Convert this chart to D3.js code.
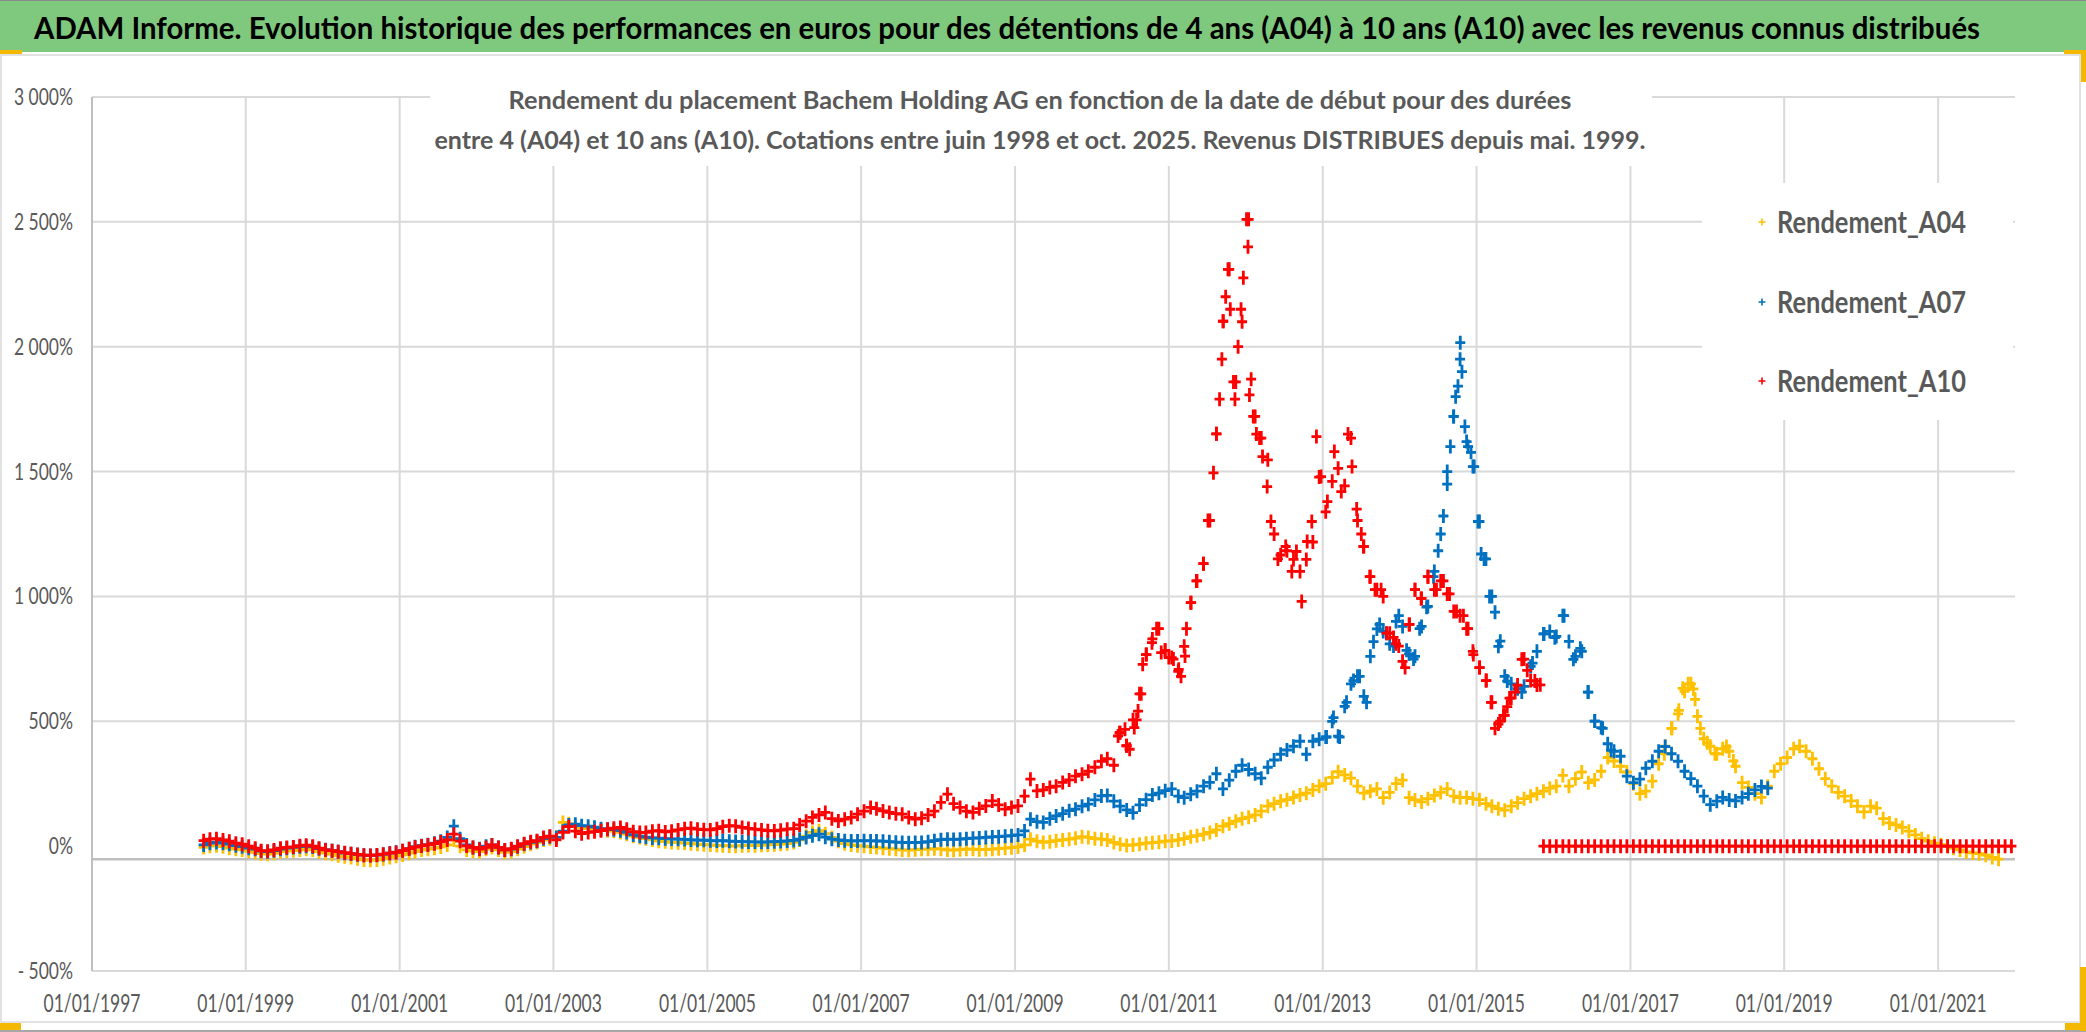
<!DOCTYPE html>
<html><head><meta charset="utf-8">
<script src="https://cdn.jsdelivr.net/npm/d3@7"></script>
<style>html,body{margin:0;padding:0;background:#fff;overflow:hidden}</style>
</head><body>
<svg id="c" width="2086" height="1032"></svg>
<script>
// ---------------- DATA (monthly readings, mid-month) ----------------
const seriesNames = ["Rendement_A04", "Rendement_A07", "Rendement_A10"];
const seriesColors = ["#FFC000", "#0070C0", "#FF0000"];
const startYear = 1998, startMonth = 6; // June 1998

const A04_values = [
  -5, 0, 2, -2, -8, -12, -15,
  -20, -25, -30, -32, -28, -22, -20, -18, -15, -12, -15, -22,
  -28, -32, -38, -42, -45, -50, -55, -56, -55, -50, -45, -40,
  -35, -28, -22, -15, -12, -8, -3, 5, 25, 0, -15, -20,
  -22, -12, -5, -15, -25, -22, -12, -2, 8, 15, 25, 30,
  35, 95, 90, 78, 72, 70, 68, 65, 62, 60, 55, 48,
  40, 35, 30, 25, 20, 18, 15, 14, 12, 10, 8, 6,
  5, 3, 2, 1, 0, 2, 3, 2, 4, 5, 6, 8,
  10, 15, 25, 40, 55, 62, 50, 35, 20, 10, 5, 2,
  0, -3, -5, -8, -10, -12, -15, -16, -14, -12, -12, -10,
  -12, -15, -16, -14, -12, -12, -14, -13, -12, -10, -8, -6,
  -3, 5, 28, 20, 15, 18, 22, 25, 28, 32, 38, 35,
  30, 28, 25, 15, 8, 3, 5, 8, 12, 14, 16, 20,
  21, 25, 30, 38, 42, 48, 55, 65, 80, 90, 100, 110,
  116, 125, 140, 160, 170, 180, 186, 195, 205, 212, 225, 240,
  250, 275, 298, 285, 272, 240, 212, 220, 229, 194, 215, 250,
  264, 194, 185, 177, 190, 203, 215, 229, 200, 194, 195, 190,
  186, 170, 160, 150, 144, 160, 174, 190, 200, 210, 220, 232,
  240, 283, 240, 270, 297, 254, 265, 300, 355, 341, 320, 297,
  250, 210, 220, 260, 330, 400, 472, 530, 620, 650, 520, 430,
  400, 370, 390, 380, 320, 254, 235, 210, 195, 240, 300, 330,
  355, 390, 400, 380, 350, 310, 270, 240, 215, 200, 181, 160,
  137, 160, 152, 110, 93, 85, 75, 60, 45, 30, 20, 12,
  6, 0, -8, -15, -23, -27, -30, -36, -45, -52
];

const A07_values = [
  5, 12, 15, 12, 8, 2, -2,
  -8, -12, -20, -22, -18, -12, -8, -5, -2, 0, -3, -10,
  -14, -18, -22, -28, -30, -34, -36, -37, -36, -33, -28, -24,
  -18, -10, -2, 2, 6, 12, 20, 35, 80, 30, 5, -5,
  -10, 0, 5, -5, -15, -12, -2, 8, 15, 20, 30, 38,
  35, 60, 85, 88, 82, 80, 76, 70, 68, 66, 62, 55,
  45, 40, 36, 33, 32, 30, 29, 28, 27, 25, 24, 24,
  22, 21, 22, 20, 19, 18, 17, 17, 16, 17, 18, 19,
  21, 23, 28, 35, 42, 48, 36, 28, 25, 22, 21, 21,
  22, 21, 21, 20, 18, 16, 15, 14, 15, 15, 18, 22,
  26, 28, 27, 28, 30, 32, 33, 35, 37, 38, 40, 42,
  45, 61, 108, 98, 95, 110, 121, 130, 142, 148, 160, 168,
  185, 201, 203, 180, 160, 145, 134, 165, 186, 205, 212, 222,
  229, 200, 194, 208, 220, 240, 255, 290, 229, 264, 300, 324,
  307, 290, 272, 316, 345, 368, 385, 400, 420, 368, 420, 428,
  437, 500, 440, 560, 650, 680, 600, 760, 870, 860, 810, 900,
  880, 770, 760, 880, 960, 1100, 1250, 1500, 1721, 1950, 1620, 1520,
  1300, 1150, 1000, 800, 680, 650, 630, 640, 720, 780, 850, 860,
  840, 923, 820, 760, 780, 617, 501, 475, 410, 380, 360, 280,
  254, 268, 312, 340, 380, 399, 370, 340, 300, 270, 240, 200,
  166, 180, 195, 185, 181, 195, 210, 225, 239, 232
];

const A10_values = [
  22, 28, 30, 25, 20, 12, 8,
  0, -8, -18, -20, -15, -8, -5, -3, 2, 4, 0, -8,
  -15, -18, -22, -26, -30, -33, -36, -37, -35, -32, -28, -25,
  -18, -10, -4, 1, 5, 10, 17, 25, 48, 20, 1, -5,
  -12, -5, 5, -5, -15, -10, 0, 10, 18, 22, 35, 40,
  25, 55, 78, 60, 50, 55, 58, 62, 68, 72, 75, 68,
  58, 55, 55, 60, 62, 57, 60, 65, 70, 72, 68, 66,
  65, 70, 78, 82, 80, 75, 71, 68, 65, 62, 61, 64,
  68, 70, 85, 100, 115, 125, 135, 110, 101, 108, 115, 128,
  140, 155, 150, 141, 135, 130, 128, 115, 108, 112, 125, 140,
  175, 208, 170, 155, 140, 135, 150, 161, 181, 165, 148, 155,
  161, 200, 268, 221, 225, 235, 240, 255, 265, 280, 288, 300,
  316, 340, 350, 324, 454, 402, 506, 610, 767, 830, 871, 784,
  755, 700, 800, 975, 1062, 1131, 1304, 1651, 2102, 2310, 1859, 2100,
  2510, 1721, 1634, 1547, 1250, 1166, 1183, 1148, 1100, 1148, 1218, 1478,
  1339, 1461, 1513, 1443, 1634, 1304, 1200, 1079, 1027, 1000, 853, 810,
  740, 888, 1027, 992, 1079, 1027, 1062, 1010, 940, 923, 871, 780,
  715, 663, 576, 489, 524, 593, 645, 749, 663, 645,
  0, 0,
  0, 0, 0, 0, 0, 0, 0, 0, 0, 0, 0, 0,
  0, 0, 0, 0, 0, 0, 0, 0, 0, 0, 0, 0,
  0, 0, 0, 0, 0, 0, 0, 0, 0, 0, 0, 0,
  0, 0, 0, 0, 0, 0, 0, 0, 0, 0, 0, 0,
  0, 0, 0, 0, 0, 0, 0, 0, 0, 0, 0, 0,
  0, 0, 0, 0, 0, 0, 0, 0, 0, 0, 0, 0
];

// extra scattered daily readings in the volatile periods: [decimal year, value]
const A10_extra = [
  [2010.34,441],[2010.36,454],[2010.43,468],[2010.45,402],[2010.49,388],[2010.55,475],[2010.58,506],
  [2010.60,541],[2010.64,610],[2010.66,728],[2010.71,767],[2010.78,815],[2010.84,871],[2010.90,775],
  [2010.95,784],[2011.00,755],[2011.06,749],[2011.13,708],[2011.16,680],[2011.21,761],[2011.23,871],
  [2011.29,975],[2011.36,1062],[2011.45,1131],[2011.51,1304],[2011.58,1495],
  [2011.62,1651],[2011.66,1790],[2011.69,1950],[2011.71,2102],[2011.74,2200],[2011.77,2310],[2011.80,2150],
  [2011.84,1859],[2011.86,1790],[2011.90,2000],[2011.94,2150],[2011.97,2276],[2012.01,2510],[2012.03,2400],
  [2012.05,1807],[2012.07,1870],[2012.10,1721],[2012.14,1650],[2012.18,1634],[2012.22,1560],[2012.28,1440],
  [2012.33,1300],[2012.42,1150],[2012.52,1200],[2012.60,1100],[2012.66,1180],[2012.73,980],[2012.80,1220],
  [2012.86,1300],[2012.92,1640],[2012.98,1480],[2013.06,1380],[2013.15,1580],[2013.24,1420],[2013.33,1650],
  [2013.38,1520],[2013.44,1350],[2013.50,1250],[2013.53,1200],[2013.61,1079],[2013.68,1027],[2013.76,1027],
  [2013.83,853],[2013.92,836],[2013.99,801],[2014.07,715],[2014.13,888],[2014.20,1027],[2014.28,992],
  [2014.37,1079],[2014.48,1027],[2014.57,1062],[2014.65,1010],[2014.74,940],[2014.83,923],[2014.89,871],
  [2014.96,767],[2015.04,715],[2015.13,663],[2015.19,576],[2015.24,472],[2015.31,501],[2015.35,524],
  [2015.40,559],[2015.43,593],[2015.50,617],[2015.59,748],[2015.66,704],[2015.76,661],[2015.83,646]
];
const A07_extra = [
  [2013.05,437],[2013.14,515],[2013.22,437],[2013.31,576],[2013.40,663],[2013.48,680],[2013.57,576],
  [2013.66,819],[2013.74,888],[2013.83,853],[2013.92,801],[2013.99,923],[2014.09,784],[2014.18,749],
  [2014.26,871],[2014.35,957],[2014.44,1079],[2014.50,1183],[2014.57,1322],
  [2014.62,1450],[2014.66,1600],[2014.70,1721],[2014.73,1800],[2014.76,1842],[2014.79,2016],[2014.81,1900],
  [2014.85,1680],[2014.89,1600],[2014.93,1577],[2014.97,1520],[2015.02,1300],[2015.06,1170],[2015.10,1150],
  [2015.17,1000],[2015.24,937],[2015.31,821],[2015.40,661],[2015.59,617],[2015.73,733],[2015.88,850],
  [2016.02,835],[2016.14,923],[2016.26,748],[2016.35,792],[2016.45,617],[2016.54,501],[2016.64,472],
  [2016.75,384]
];
const A04_extra = [
  [2017.44,370],[2017.54,472],[2017.63,544],[2017.68,632],[2017.75,650],[2017.82,630],[2017.84,588],
  [2017.91,472],[2018.00,414],[2018.10,370],[2018.25,399],[2018.34,341]
];

const yTickValues = [-500, 0, 500, 1000, 1500, 2000, 2500, 3000];
const xTickDates = ["1997-01-01","1999-01-01","2001-01-01","2003-01-01","2005-01-01","2007-01-01",
  "2009-01-01","2011-01-01","2013-01-01","2015-01-01","2017-01-01","2019-01-01","2021-01-01"];
const xDomain = ["1997-01-01", "2022-01-01"];
const xAxisCrossAt = -52;

const titleText = "ADAM Informe. Evolution historique des performances en euros pour des détentions de 4 ans (A04) à 10 ans (A10) avec les revenus connus distribués";
const subtitleLines = [
  "Rendement du placement Bachem Holding AG en fonction de la date de début pour des durées",
  "entre 4 (A04) et 10 ans (A10). Cotations entre juin 1998 et oct. 2025. Revenus DISTRIBUES depuis mai. 1999."
];

// ---------------- DRAW ----------------
const svg = d3.select("#c");
const FONT = "Lato, 'Open Sans', 'DejaVu Sans', sans-serif";
const TXT = "#595959";

const monthly = vals => vals.map((v, i) => ({date: new Date(startYear, startMonth - 1 + i, 15), value: v}));
const parseD = d3.timeParse("%Y-%m-%d");
const decDate = t => { const yr = Math.floor(t); return new Date(yr, 0, 1 + Math.round((t - yr) * 365)); };
const extra = arr => arr.map(d => ({date: decDate(d[0]), value: d[1]}));

const series = [
  monthly(A04_values).concat(extra(A04_extra)),
  monthly(A07_values).concat(extra(A07_extra)),
  monthly(A10_values).concat(extra(A10_extra))
];

const x = d3.scaleTime().domain(xDomain.map(parseD)).range([92, 2015]);
const y = d3.scaleLinear().domain([-500, 3000]).range([971, 97]);

function fit(sel, w) { sel.attr("textLength", w).attr("lengthAdjust", "spacingAndGlyphs"); }

// background
svg.append("rect").attr("width", 2086).attr("height", 1032).attr("fill", "#fff");
// banner
svg.append("rect").attr("x", 0).attr("y", 0).attr("width", 2086).attr("height", 52).attr("fill", "#7fc97f");
svg.append("line").attr("x1", 0).attr("x2", 2086).attr("y1", 0.5).attr("y2", 0.5).attr("stroke", "#8a8a8a");
svg.append("text").attr("x", 34).attr("y", 39).attr("font-family", FONT).attr("font-weight", 700)
  .attr("font-size", 31).attr("fill", "#000").text(titleText).call(fit, 1946);

// chart area border
svg.append("rect").attr("x", 1).attr("y", 55).attr("width", 2079).attr("height", 967)
  .attr("fill", "none").attr("stroke", "#d9d9d9").attr("stroke-width", 1.5);
svg.append("line").attr("x1", 0).attr("x2", 2086).attr("y1", 1031).attr("y2", 1031).attr("stroke", "#8a8a8a").attr("stroke-width", 1.5);
// selection handles
const hd = [[0,50,22,4],[2064,50,22,4],[2081,50,5,32],[0,1023,21,7],[2065,1023,21,7],[2080,967,6,64]];
svg.selectAll("rect.h").data(hd).join("rect").attr("class","h")
  .attr("x", d=>d[0]).attr("y", d=>d[1]).attr("width", d=>d[2]).attr("height", d=>d[3]).attr("fill", "#f5b800");

// gridlines
const g = svg.append("g");
g.selectAll("line.hg").data(yTickValues.filter(v => v !== 0)).join("line").attr("class","hg")
  .attr("x1", 92).attr("x2", 2015).attr("y1", d => y(d)).attr("y2", d => y(d))
  .attr("stroke", "#d9d9d9").attr("stroke-width", 2);
g.selectAll("line.vg").data(xTickDates.slice(1).map(parseD)).join("line").attr("class","vg")
  .attr("x1", d => x(d)).attr("x2", d => x(d)).attr("y1", y(3000)).attr("y2", y(-500))
  .attr("stroke", "#d9d9d9").attr("stroke-width", 2);
// axes lines
g.append("line").attr("x1", 92).attr("x2", 92).attr("y1", y(3000)).attr("y2", y(-500)).attr("stroke", "#bfbfbf").attr("stroke-width", 2);
g.append("line").attr("x1", 92).attr("x2", 2015).attr("y1", y(xAxisCrossAt)).attr("y2", y(xAxisCrossAt)).attr("stroke", "#bfbfbf").attr("stroke-width", 2.5);

// white boxes (title & legend)
svg.append("rect").attr("x", 430).attr("y", 78).attr("width", 1222).attr("height", 88).attr("fill", "#fff");
svg.append("rect").attr("x", 1702).attr("y", 183).attr("width", 311).attr("height", 237).attr("fill", "#fff");

// subtitle
svg.selectAll("text.sub").data(subtitleLines).join("text").attr("class","sub")
  .attr("x", 1040).attr("y", (d, i) => 109 + i * 40).attr("text-anchor", "middle")
  .attr("font-family", FONT).attr("font-weight", 700).attr("font-size", 25).attr("fill", TXT)
  .text(d => d).each(function(d, i) { d3.select(this).call(fit, [1063, 1211][i]); });

// y tick labels
const yFmt = v => (v < 0 ? "- " : "") + d3.format(",")(Math.abs(v)).replace(/,/g, " ") + "%";
const yl = svg.selectAll("text.yl").data(yTickValues).join("text").attr("class","yl")
  .attr("x", 73).attr("y", d => y(d) + 8).attr("text-anchor", "end")
  .attr("font-family", FONT).attr("font-size", 23).attr("fill", TXT).text(yFmt);
const refY = yl.filter(d => d === 3000).node().getComputedTextLength();
yl.each(function() { const w = this.getComputedTextLength(); d3.select(this).call(fit, w * 59 / refY); });

// x tick labels
const xFmt = d3.timeFormat("%d/%m/%Y");
svg.selectAll("text.xl").data(xTickDates.map(parseD)).join("text").attr("class","xl")
  .attr("x", d => x(d)).attr("y", 1012).attr("text-anchor", "middle")
  .attr("font-family", FONT).attr("font-size", 25).attr("fill", TXT).text(xFmt).call(fit, 97);

// data markers
const plus = "M-5,0H5M0,-7V7";
series.forEach((s, k) => {
  svg.append("g").selectAll("path").data(s).join("path")
    .attr("transform", d => `translate(${x(d.date)},${y(d.value)})`)
    .attr("d", plus).attr("stroke", seriesColors[k]).attr("stroke-width", 2.8).attr("fill", "none");
});

// legend
const lg = svg.append("g");
const ly = [222, 302, 381];
seriesNames.forEach((n, i) => {
  lg.append("path").attr("transform", `translate(1762,${ly[i]})`).attr("d", "M-3.5,0H3.5M0,-3.5V3.5")
    .attr("stroke", seriesColors[i]).attr("stroke-width", 1.6);
  lg.append("text").attr("x", 1777).attr("y", ly[i] + 11).attr("font-family", FONT).attr("font-weight", 700)
    .attr("font-size", 31).attr("fill", TXT).text(n).call(fit, 189);
});
</script>
</body></html>
